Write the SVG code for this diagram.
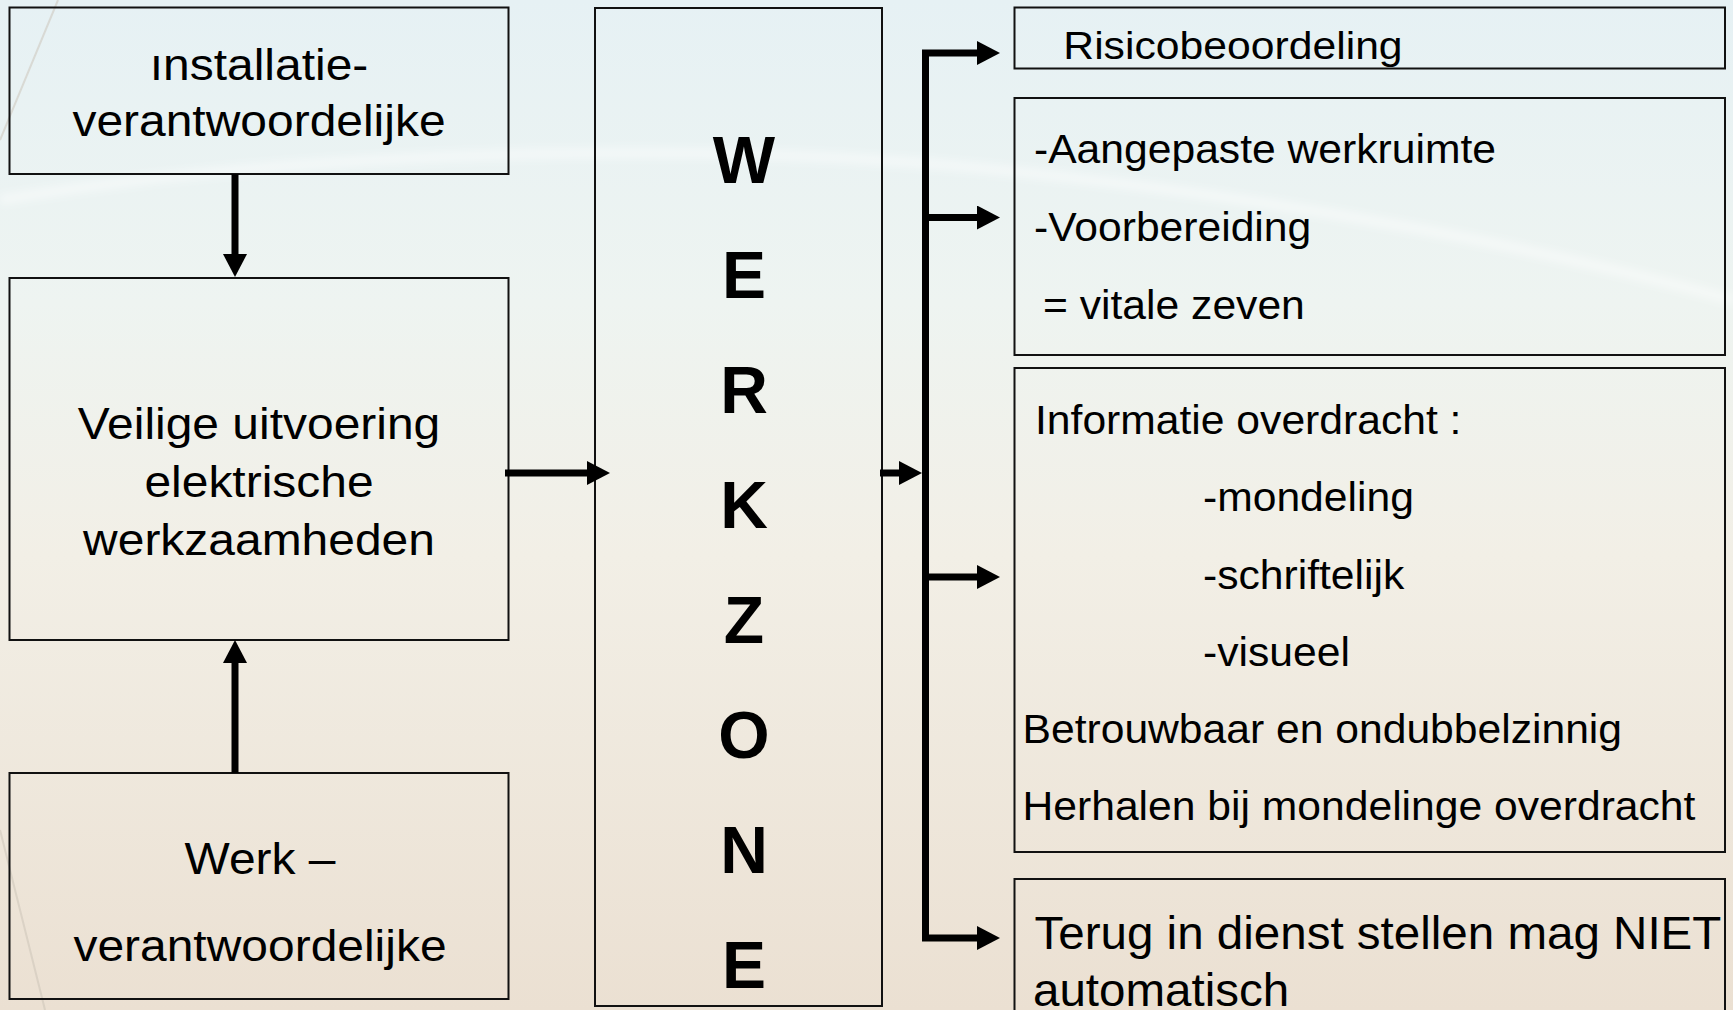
<svg xmlns="http://www.w3.org/2000/svg" width="1733" height="1010" viewBox="0 0 1733 1010">
<defs>
<linearGradient id="bg" x1="0" y1="0" x2="0" y2="1">
<stop offset="0" stop-color="#e6f1f4"/>
<stop offset="0.3" stop-color="#eef4f1"/>
<stop offset="0.55" stop-color="#f2efe6"/>
<stop offset="1" stop-color="#ebe0d2"/>
</linearGradient>
<filter id="soft" x="-5%" y="-50%" width="110%" height="200%">
<feGaussianBlur stdDeviation="4"/>
</filter>
<marker id="ah" markerUnits="userSpaceOnUse" markerWidth="23" markerHeight="24" viewBox="0 0 23 24" refX="0" refY="12" orient="auto-start-reverse">
<path d="M0,0 L23,12 L0,24 z" fill="#000"/>
</marker>
<style>
.box{fill:none;stroke:#111;stroke-width:2}
.t{font-family:"Liberation Sans",Arial,sans-serif;fill:#000}
.l{font-size:44px}
.r{font-size:41px}
.big{font-size:45.5px}
.b{font-family:"Liberation Sans",Arial,sans-serif;font-weight:bold;font-size:66px;fill:#000}
.c{fill:none;stroke:#000;stroke-width:7}
</style>
</defs>
<rect x="0" y="0" width="1733" height="1010" fill="url(#bg)"/>
<path d="M0,200 C300,150 700,140 1000,170 C1300,200 1550,250 1733,300" fill="none" stroke="#ffffff" stroke-opacity="0.45" stroke-width="10" filter="url(#soft)"/>
<path d="M58,0 L0,140" fill="none" stroke="#c9c2b5" stroke-opacity="0.5" stroke-width="2"/>
<path d="M0,830 L45,1010" fill="none" stroke="#c9c2b5" stroke-opacity="0.5" stroke-width="2"/>

<g id="installatie">
<rect class="box" x="9.5" y="7.5" width="499" height="166.5"/>
<text class="t l" text-anchor="middle" transform="translate(259 80) scale(1.09 1)">ınstallatie-</text>
<text class="t l" text-anchor="middle" transform="translate(259 136) scale(1.09 1)">verantwoordelijke</text>
</g>
<g id="veilige">
<rect class="box" x="9.5" y="278" width="499" height="362"/>
<text class="t l" text-anchor="middle" transform="translate(259 439) scale(1.09 1)">Veilige uitvoering</text>
<text class="t l" text-anchor="middle" transform="translate(259 497) scale(1.09 1)">elektrische</text>
<text class="t l" text-anchor="middle" transform="translate(259 555) scale(1.09 1)">werkzaamheden</text>
</g>
<g id="werk">
<rect class="box" x="9.5" y="773" width="499" height="226"/>
<text class="t l" text-anchor="middle" transform="translate(260 874) scale(1.09 1)">Werk –</text>
<text class="t l" text-anchor="middle" transform="translate(260 961) scale(1.09 1)">verantwoordelijke</text>
</g>
<g id="werkzone">
<rect class="box" x="595" y="8" width="287" height="998"/>
<text class="b" text-anchor="middle" x="744" y="183">W</text>
<text class="b" text-anchor="middle" x="744" y="298">E</text>
<text class="b" text-anchor="middle" x="744" y="413">R</text>
<text class="b" text-anchor="middle" x="744" y="528">K</text>
<text class="b" text-anchor="middle" x="744" y="643">Z</text>
<text class="b" text-anchor="middle" x="744" y="758">O</text>
<text class="b" text-anchor="middle" x="744" y="873">N</text>
<text class="b" text-anchor="middle" x="744" y="988">E</text>
</g>
<g id="risico">
<rect class="box" x="1014.5" y="7.5" width="710.5" height="61"/>
<text class="t" style="font-size:39px" transform="translate(1063.3 59.3) scale(1.095 1)">Risicobeoordeling</text>
</g>
<g id="voorbereiding">
<rect class="box" x="1014.5" y="98" width="710.5" height="257"/>
<text class="t r" transform="translate(1034 163.3) scale(1.04 1)">-Aangepaste werkruimte</text>
<text class="t r" transform="translate(1034 241) scale(1.04 1)">-Voorbereiding</text>
<text class="t r" transform="translate(1043 318.7) scale(1.04 1)">= vitale zeven</text>
</g>
<g id="informatie">
<rect class="box" x="1014.5" y="368" width="710.5" height="484"/>
<text class="t r" transform="translate(1035 434) scale(1.04 1)">Informatie overdracht :</text>
<text class="t r" transform="translate(1203 511) scale(1.04 1)">-mondeling</text>
<text class="t r" transform="translate(1203 589) scale(1.04 1)">-schriftelijk</text>
<text class="t r" transform="translate(1203 666) scale(1.04 1)">-visueel</text>
<text class="t r" transform="translate(1022.5 743) scale(1.04 1)">Betrouwbaar en ondubbelzinnig</text>
<text class="t r" transform="translate(1022.5 820) scale(1.04 1)">Herhalen bij mondelinge overdracht</text>
</g>
<g id="terug">
<rect class="box" x="1014.5" y="879" width="710.5" height="140"/>
<text class="t big" transform="translate(1034.5 949.3) scale(1.045 1)">Terug in dienst stellen mag NIET</text>
<text class="t big" transform="translate(1033 1006) scale(1.045 1)">automatisch</text>
</g>

<g id="connectors">
<line class="c" x1="235" y1="174" x2="235" y2="254" marker-end="url(#ah)"/>
<line class="c" x1="235" y1="773" x2="235" y2="663" marker-end="url(#ah)"/>
<line class="c" x1="505" y1="473" x2="587" y2="473" marker-end="url(#ah)"/>
<line class="c" x1="880" y1="473" x2="899" y2="473" marker-end="url(#ah)"/>
<path class="c" d="M977,53 H925.5 V938 H977" marker-start="url(#ah)" marker-end="url(#ah)"/>
<line class="c" x1="925" y1="217.5" x2="977" y2="217.5" marker-end="url(#ah)"/>
<line class="c" x1="925" y1="577" x2="977" y2="577" marker-end="url(#ah)"/>
</g>
</svg>
